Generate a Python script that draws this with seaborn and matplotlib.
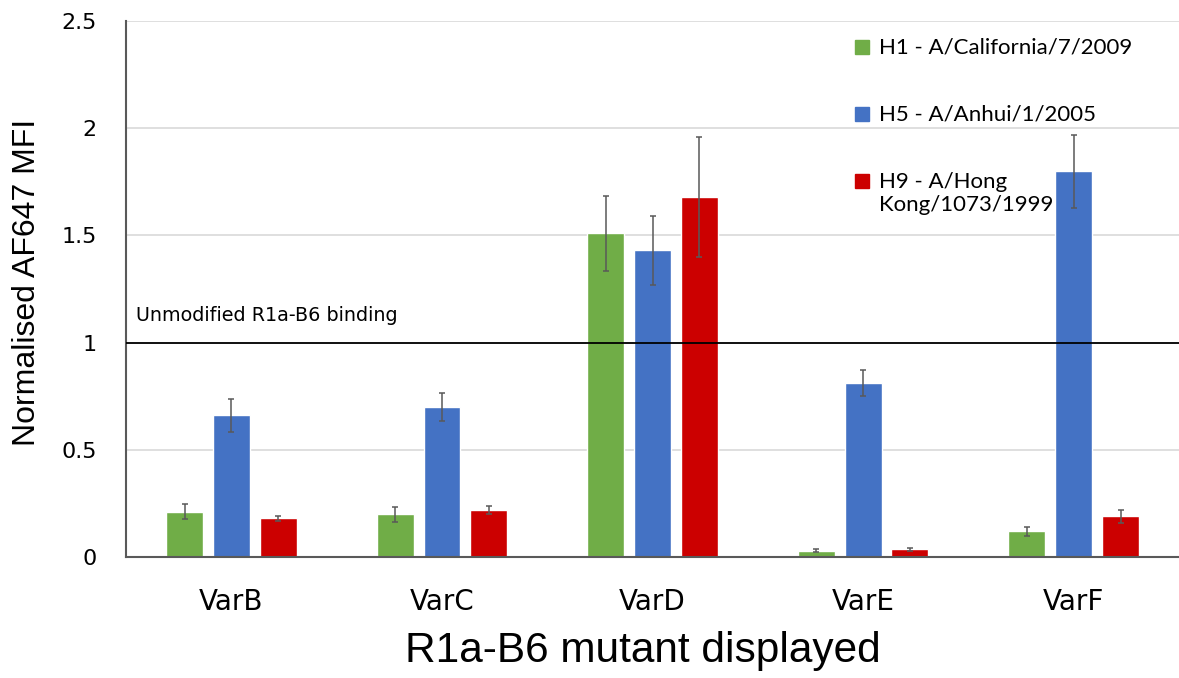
import pandas as pd
import seaborn as sns
import matplotlib.pyplot as plt
from matplotlib.lines import Line2D

variants = ["VarB", "VarC", "VarD", "VarE", "VarF"]
strains = ["H1 - A/California/7/2009", "H5 - A/Anhui/1/2005", "H9 - A/Hong\nKong/1073/1999"]

h1_mfi = [0.21, 0.20, 1.51, 0.03, 0.12]
h5_mfi = [0.66, 0.70, 1.43, 0.81, 1.80]
h9_mfi = [0.18, 0.22, 1.68, 0.035, 0.19]

h1_err = [0.035, 0.035, 0.175, 0.005, 0.02]
h5_err = [0.075, 0.065, 0.16, 0.06, 0.17]
h9_err = [0.012, 0.018, 0.28, 0.005, 0.03]

colors = ["#70AD47", "#4472C4", "#CC0000"]

rows = []
for strain, vals in zip(strains, [h1_mfi, h5_mfi, h9_mfi]):
    for var, v in zip(variants, vals):
        rows.append({"variant": var, "strain": strain, "mfi": v})
df = pd.DataFrame(rows)

sns.set_style("white")
plt.rcParams['font.family'] = ['DejaVu Sans']
plt.rcParams['text.color'] = 'black'
plt.rcParams['axes.labelcolor'] = 'black'
plt.rcParams['xtick.color'] = 'black'
plt.rcParams['ytick.color'] = 'black'

fig = plt.figure(figsize=(11.79, 6.78), dpi=100)
ax = fig.add_axes([0.107, 0.1785, 0.893, 0.7905])

ax.yaxis.grid(True, color="#d9d9d9", lw=1.2)
ax.set_axisbelow(True)

sns.barplot(data=df, x="variant", y="mfi", hue="strain", order=variants,
            hue_order=strains, palette=colors, saturation=1, errorbar=None,
            width=0.667, gap=0.21, ax=ax, legend=False)

# error bars
for cont, errs in zip(ax.containers, [h1_err, h5_err, h9_err]):
    xs = [p.get_x() + p.get_width() / 2 for p in cont.patches]
    hs = [p.get_height() for p in cont.patches]
    ax.errorbar(xs, hs, yerr=errs, fmt="none", ecolor="#595959",
                elinewidth=1.1, capsize=2.5, capthick=1.1, zorder=5)

# unmodified binding level
ax.axhline(1, color="black", lw=1.3, zorder=4)
ax.text(-0.455, 1.08, "Unmodified R1a-B6 binding", fontsize=13.8, va="bottom")

ax.set_xlim(-0.5, 4.5)
ax.set_ylim(0, 2.5)
ax.set_yticks([0, 0.5, 1, 1.5, 2, 2.5])
ax.set_yticklabels(["0", "0.5", "1", "1.5", "2", "2.5"])
ax.tick_params(axis="y", length=0, pad=21, labelsize=16)
ax.tick_params(axis="x", length=0, pad=22, labelsize=20)

sns.despine(ax=ax)
for s in ["left", "bottom"]:
    ax.spines[s].set_color("#595959")
    ax.spines[s].set_linewidth(1.5)

ax.set_xlabel("R1a-B6 mutant displayed", fontsize=30.5, family="Liberation Sans", labelpad=11)
ax.set_ylabel("Normalised AF647 MFI", fontsize=23, family="Liberation Sans", labelpad=14)
ax.xaxis.label.set_x(0.491)
ax.yaxis.label.set_y(0.512)

handles = [Line2D([], [], ls="none", marker="s", markersize=10,
                  markerfacecolor=c, markeredgecolor=c) for c in colors]
leg = ax.legend(handles, strains, loc="upper left", bbox_to_anchor=(0.673, 1.006),
                frameon=False, prop={"family": "Lato", "size": 16},
                handlelength=0.7, handleheight=1.1, handletextpad=0.4,
                labelspacing=2.05)
for col in leg._legend_handle_box.get_children():
    for row in col.get_children():
        row.align = "top"

fig.savefig("out.png", dpi=100)
